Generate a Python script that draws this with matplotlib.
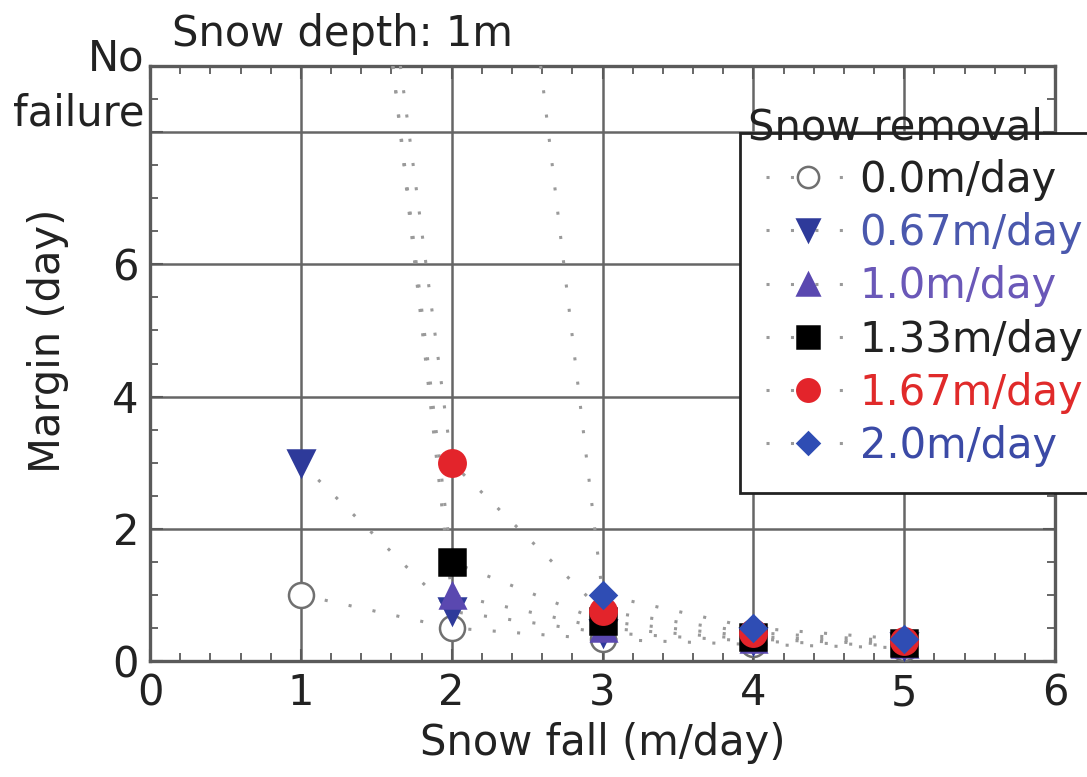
import matplotlib
matplotlib.use("Agg")
from matplotlib import pyplot as plt
from matplotlib.ticker import MultipleLocator, FixedLocator

plt.rcParams['font.family'] = ['DejaVu Sans']

# snow removal rate -> (snow fall, margin); a first point at y=9 is the "No failure" end
labels = ["0.0m/day", "0.67m/day", "1.0m/day", "1.33m/day", "1.67m/day", "2.0m/day"]

x_r000 = [1, 2, 3, 4, 5]
y_r000 = [1.0, 0.5, 0.33, 0.25, 0.2]
x_r067 = [1, 2, 3, 4, 5]
y_r067 = [3.0, 0.75, 0.43, 0.3, 0.23]
x_r100 = [1.61, 2, 3, 4, 5]
y_r100 = [9.0, 1.0, 0.5, 0.33, 0.25]
x_r133 = [1.61, 2, 3, 4, 5]
y_r133 = [9.0, 1.5, 0.6, 0.37, 0.27]
x_r167 = [1.66, 2, 3, 4, 5]
y_r167 = [9.0, 3.0, 0.75, 0.43, 0.3]
x_r200 = [2.59, 3, 4, 5]
y_r200 = [9.0, 1.0, 0.5, 0.33]

series = [(x_r000, y_r000), (x_r067, y_r067), (x_r100, y_r100),
          (x_r133, y_r133), (x_r167, y_r167), (x_r200, y_r200)]

markers = ["o", "v", "^", "s", "o", "D"]
sizes = [18, 19, 18, 19, 19, 13]
face = ["white", "#2e3a9a", "#5a48b0", "black", "#e3242b", "#2f4db4"]
edge = ["#707070", "#2e3a9a", "#5a48b0", "black", "#e3242b", "#2f4db4"]
text_col = ["#222222", "#4a58ad", "#6a58b8", "#222222", "#e02a2a", "#3b4aa6"]

FS = 30

fig = plt.figure(figsize=(10.87, 7.77), dpi=100)
ax = fig.add_axes([150 / 1087, 1 - 661 / 777, 905 / 1087, 595 / 777])

for i, (xs, ys) in enumerate(series):
    start = 1 if ys[0] >= 9 else 0
    ax.plot(xs, ys, color="#9a9a9a", lw=2.2, ls=(0, (1, 7)),
            marker=markers[i], ms=sizes[i], mfc=face[i], mec=edge[i], mew=1.8,
            markevery=list(range(start, len(xs))), label=labels[i],
            zorder=3 + i, clip_on=True)

ax.set_xlim(0, 6)
ax.set_ylim(0, 9)
ax.xaxis.set_major_locator(MultipleLocator(1))
ax.xaxis.set_minor_locator(MultipleLocator(0.2))
ax.yaxis.set_major_locator(FixedLocator([0, 2, 4, 6, 8]))
ax.yaxis.set_minor_locator(MultipleLocator(0.5))
ax.set_yticklabels(["0", "2", "4", "6", ""])
ax.grid(True, which="major", color="#666666", lw=1.8)
ax.set_axisbelow(True)

ax.tick_params(which="both", direction="in", top=True, right=True,
               colors="#5a5a5a", labelcolor="#222222", labelsize=FS)
ax.tick_params(which="major", length=9, width=1.5, pad=8)
ax.tick_params(which="minor", length=6, width=1.3)
for sp in ax.spines.values():
    sp.set_color("#5a5a5a")
    sp.set_linewidth(2.4)

ax.set_xlabel("Snow fall (m/day)", fontsize=FS, color="#222222", labelpad=6)
ax.set_ylabel("Margin (day)", fontsize=FS, color="#222222", va="center")
ax.yaxis.set_label_coords((48 - 150) / 905, (661 - 341) / 595)

ax.text(-0.006, 8.7, "No\nfailure", transform=ax.get_yaxis_transform(),
        ha="right", va="center", fontsize=FS, color="#222222", linespacing=1.38)
fig.text(172 / 1087, 1 - 34 / 777, "Snow depth: 1m", ha="left", va="center",
         fontsize=FS, color="#222222")
ax.text(1043 / 1087, 1 - 128 / 777, "Snow removal", transform=fig.transFigure,
        ha="right", va="center", fontsize=FS, color="#222222", zorder=20)

leg = ax.legend(loc="upper left", bbox_to_anchor=((740 - 150) / 905, (661 - 133) / 595),
                fontsize=FS, frameon=True, fancybox=False, framealpha=1,
                edgecolor="#222222", markerscale=0.85, handlelength=2.0,
                handletextpad=0.25, labelspacing=0.27, borderpad=0.62,
                borderaxespad=0)
leg.get_frame().set_linewidth(2)
leg.set_zorder(15)
for t, c in zip(leg.get_texts(), text_col):
    t.set_color(c)

plt.savefig("out.png")
